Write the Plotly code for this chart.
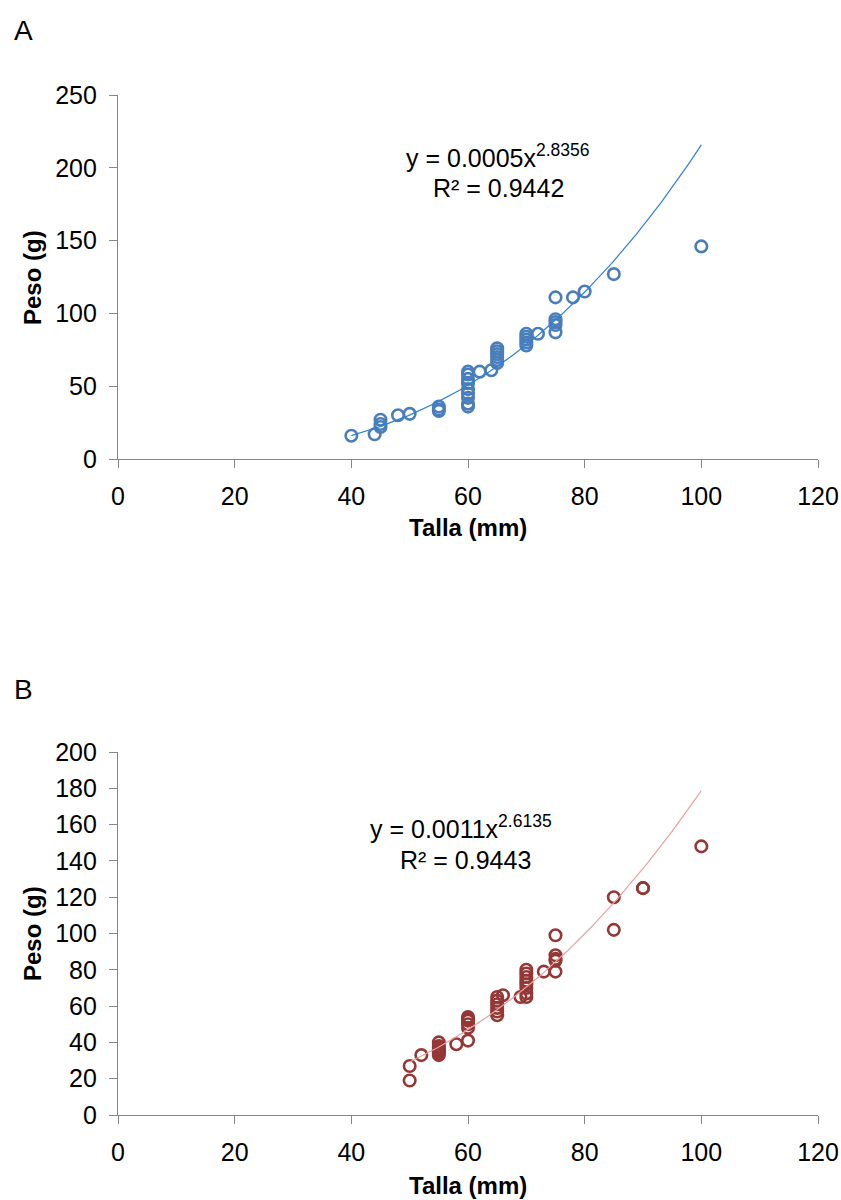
import numpy as np
import plotly.graph_objects as go

# ---------------- Data ----------------
# Panel A (blue)
talla_a = [40, 44, 45, 45, 45, 48, 50, 55, 55, 55,
           60, 60, 60, 60, 60, 60, 60, 60, 60, 62, 64,
           65, 65, 65, 65, 65, 65,
           70, 70, 70, 70, 70, 72,
           75, 75, 75, 75, 75, 78, 80, 85, 100]
peso_a = [16, 17, 27, 24, 22, 30, 31, 36, 34, 33,
          36, 38, 42, 45, 48, 52, 55, 58, 60, 60, 61,
          66, 68, 70, 72, 74, 76,
          78, 80, 82, 84, 86, 86,
          87, 92, 94, 96, 111, 111, 115, 127, 146]
fit_a = {"a": 0.00046, "b": 2.8356, "xmin": 40, "xmax": 100}
eq_a = "y = 0.0005x<sup>2.8356</sup>"
r2_a = "R² = 0.9442"

# Panel B (dark red)
talla_b = [50, 50, 52,
           55, 55, 55, 55, 55, 55, 55, 58,
           60, 60, 60, 60, 60, 60,
           65, 65, 65, 65, 65, 65, 66, 69,
           70, 70, 70, 70, 70, 70, 70, 70, 73,
           75, 75, 75, 75, 75, 85, 85, 90, 90, 100]
peso_b = [27, 19, 33,
          40, 38, 37, 36, 35, 34, 33, 39,
          54, 53, 52, 50, 48, 41,
          65, 63, 61, 59, 57, 55, 66, 65,
          80, 78, 76, 74, 72, 70, 67, 65, 79,
          99, 88, 86, 85, 79, 120, 102, 125, 125, 148]
fit_b = {"a": 0.00106, "b": 2.6135, "xmin": 50, "xmax": 100}
eq_b = "y = 0.0011x<sup>2.6135</sup>"
r2_b = "R² = 0.9443"

x_ticks = [0, 20, 40, 60, 80, 100, 120]
y_ticks_a = [0, 50, 100, 150, 200, 250]
y_ticks_b = [0, 20, 40, 60, 80, 100, 120, 140, 160, 180, 200]

# ---------------- Styling ----------------
W, H = 841, 1200
FONT = "Liberation Sans, Arial, sans-serif"
AX_COLOR = "#868686"
BLUE_M, BLUE_L = "#4a7ebb", "#2f7fd8"
RED_M, RED_L = "#953735", "#e8a0a0"


def px(x):
    return x / W


def py(y):
    return 1 - y / H


fig = go.Figure()


def add_panel(xs, ys, fit, mcol, lcol, xa, ya):
    fig.add_trace(go.Scatter(
        x=xs, y=ys, mode="markers", xaxis=xa, yaxis=ya,
        marker=dict(symbol="circle-open", size=11.5, color=mcol,
                    line=dict(width=2.6, color=mcol)),
        showlegend=False, hoverinfo="skip", cliponaxis=False))
    xf = np.linspace(fit["xmin"], fit["xmax"], 200)
    yf = fit["a"] * xf ** fit["b"]
    fig.add_trace(go.Scatter(
        x=xf, y=yf, mode="lines", xaxis=xa, yaxis=ya,
        line=dict(color=lcol, width=1.2),
        showlegend=False, hoverinfo="skip"))


add_panel(talla_a, peso_a, fit_a, BLUE_M, BLUE_L, "x", "y")
add_panel(talla_b, peso_b, fit_b, RED_M, RED_L, "x2", "y2")

xdom = [px(118), px(818)]
common_axis = dict(showgrid=False, zeroline=False, showline=True,
                   automargin=False, ticklabeloverflow="allow",
                   linecolor=AX_COLOR, linewidth=1.3, ticks="outside",
                   ticklen=8, tickcolor=AX_COLOR, tickwidth=1.3,
                   tickfont=dict(family=FONT, size=25, color="#000000"),
                   ticklabelstandoff=7)

fig.update_layout(
    template="none",
    width=W, height=H,
    margin=dict(l=0, r=0, t=0, b=0, pad=0),
    paper_bgcolor="white", plot_bgcolor="white",
    xaxis=dict(domain=xdom, range=[0, 120], tickvals=x_ticks,
               anchor="y", **common_axis),
    yaxis=dict(domain=[py(459), py(95)], range=[0, 250],
               tickvals=y_ticks_a, anchor="x", **common_axis),
    xaxis2=dict(domain=xdom, range=[0, 120], tickvals=x_ticks,
                anchor="y2", **common_axis),
    yaxis2=dict(domain=[py(1115), py(752)], range=[0, 200],
                tickvals=y_ticks_b, anchor="x2", **common_axis),
)

ann = []
# Panel letters
ann.append(dict(text="A", x=px(12), y=py(30), xanchor="left", yanchor="middle",
                font=dict(family=FONT, size=28, color="#000")))
ann.append(dict(text="B", x=px(12), y=py(689), xanchor="left", yanchor="middle",
                font=dict(family=FONT, size=28, color="#000")))
# Axis titles
for yc_x, yc_y in [(527, 277), (1185, 933)]:
    ann.append(dict(text="<b>Talla (mm)</b>", x=px(468), y=py(yc_x),
                    xanchor="center", yanchor="middle",
                    font=dict(family=FONT, size=24, color="#000")))
    ann.append(dict(text="<b>Peso (g)</b>", x=px(32), y=py(yc_y),
                    xanchor="center", yanchor="middle", textangle=-90,
                    font=dict(family=FONT, size=24, color="#000")))
# Equations
for txt, cx, cy in [(eq_a, 498, 156), (r2_a, 498, 188),
                    (eq_b, 461, 827), (r2_b, 466, 860)]:
    ann.append(dict(text=txt, x=px(cx), y=py(cy), xanchor="center",
                    yanchor="middle",
                    font=dict(family=FONT, size=25, color="#000")))

for a in ann:
    a.update(xref="paper", yref="paper", showarrow=False)
fig.update_layout(annotations=ann)

fig.write_html(
    "out.html",
    config={"displayModeBar": False},
    post_script="document.body.style.margin='0';"
                "document.documentElement.style.overflow='hidden';",
)
